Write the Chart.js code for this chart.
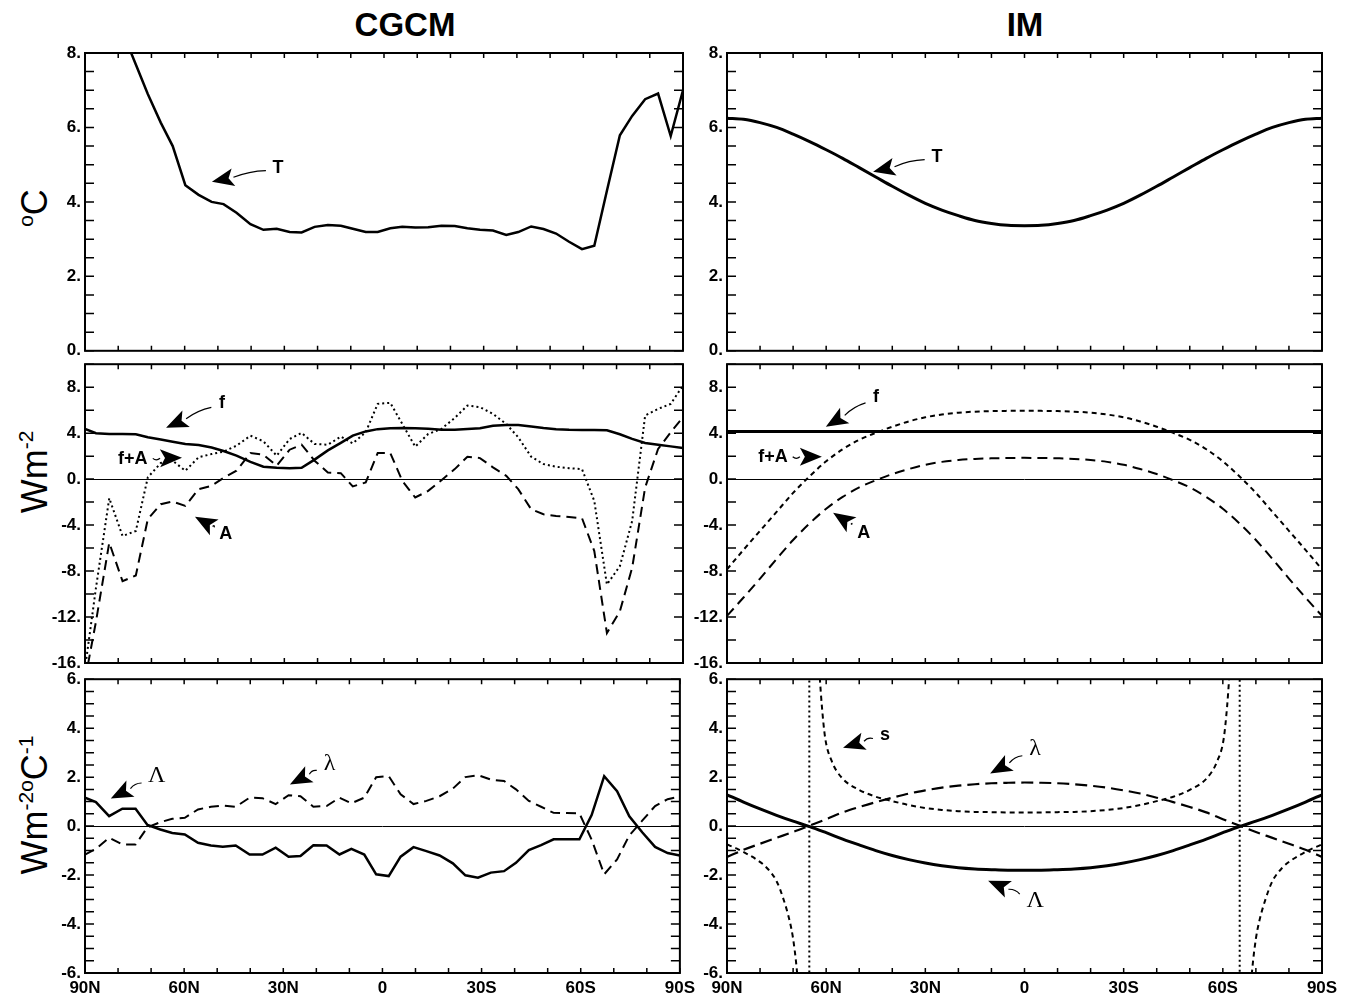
<!DOCTYPE html>
<html>
<head>
<meta charset="utf-8">
<script src="https://cdn.jsdelivr.net/npm/chart.js"></script>
<style>
    body { margin: 0; background: #fff; }
    #page { position: relative; width: 1348px; height: 1000px; overflow: hidden; font-family: "Liberation Sans", Arial, sans-serif; color: #000; }
    canvas { position: absolute; }
    .title { position: absolute; top: 8px; font-weight: bold; font-size: 33px; line-height: 33px; transform: translateX(-50%); }
    .ylab { position: absolute; font-size: 36px; line-height: 36px; white-space: nowrap; transform: translate(-50%, -50%) rotate(-90deg); }
    .ylab sup { font-size: 21px; vertical-align: 14px; }
</style>
</head>
<body>
<div id="page">
    <div class="title" style="left:405px">CGCM</div>
    <div class="title" style="left:1025px">IM</div>
    <div class="ylab" style="left:30px;top:208px"><sup>o</sup>C</div>
    <div class="ylab" style="left:30px;top:472px">Wm<sup>-2</sup></div>
    <div class="ylab" style="left:30px;top:805px">Wm<sup>-2</sup><sup>o</sup>C<sup>-1</sup></div>

    <canvas id="cgcmTop" width="700" height="335" style="left:0;top:30px"></canvas>
    <canvas id="imTop" width="658" height="335" style="left:690px;top:30px"></canvas>
    <canvas id="cgcmMid" width="700" height="330" style="left:0;top:350px"></canvas>
    <canvas id="imMid" width="658" height="330" style="left:690px;top:350px"></canvas>
    <canvas id="cgcmBot" width="700" height="335" style="left:0;top:665px"></canvas>
    <canvas id="imBot" width="658" height="335" style="left:690px;top:665px"></canvas>
</div>

<script>
// tick labels
const latTicks = [90, 60, 30, 0, -30, -60, -90];
const tempTicks = [0, 2, 4, 6, 8];
const fluxTicks = [-16, -12, -8, -4, 0, 4, 8];
const fbTicks = [-6, -4, -2, 0, 2, 4, 6];

const cgcmLat = [90, 86.7, 82.7, 78.7, 74.7, 71.1, 67.2, 63.6, 59.8, 55.8, 51.9, 48.3, 44.4, 40.2, 36.3, 32.3,
    28.4, 24.8, 20.9, 16.9, 13.0, 9.4, 5.5, 1.9, -1.9, -5.5, -9.4, -13.3, -17.3, -21.3, -25.1, -28.9,
    -32.8, -36.8, -40.4, -44.3, -48.0, -51.8, -55.7, -59.6, -63.3, -67.1, -71.0, -74.7, -78.6, -82.5, -86.3, -90];
const cgcmT = [11.0, 10.3, 9.45, 8.57, 7.69, 6.9, 6.13, 5.5, 4.45, 4.19, 4.0, 3.94, 3.71, 3.4, 3.25, 3.28,
    3.19, 3.18, 3.33, 3.38, 3.36, 3.28, 3.19, 3.19, 3.29, 3.33, 3.31, 3.32, 3.36, 3.35, 3.29, 3.25,
    3.23, 3.11, 3.19, 3.34, 3.27, 3.15, 2.93, 2.73, 2.82, 4.3, 5.79, 6.31, 6.76, 6.91, 5.77, 7.0];
const cgcmF = [4.37, 4.0, 3.93, 3.92, 3.9, 3.64, 3.45, 3.26, 3.05, 2.97, 2.75, 2.45, 2.04, 1.5, 1.08, 0.98,
    0.95, 0.98, 1.7, 2.5, 3.15, 3.78, 4.15, 4.35, 4.42, 4.45, 4.42, 4.38, 4.3, 4.3, 4.36, 4.42,
    4.65, 4.72, 4.7, 4.58, 4.45, 4.35, 4.3, 4.28, 4.28, 4.25, 3.9, 3.5, 3.15, 3.0, 2.85, 2.7];
const cgcmFA = [-16.5, -9.46, -1.66, -4.95, -4.51, 0.15, 1.4, 1.6, 0.73, 1.9, 2.18, 2.39, 2.91, 3.78, 3.29, 2.04,
    3.49, 4.02, 3.06, 2.99, 3.7, 3.11, 4.08, 6.55, 6.64, 4.8, 2.82, 3.93, 4.37, 5.33, 6.4, 6.26,
    5.68, 4.8, 3.64, 1.95, 1.31, 1.08, 0.95, 0.87, -1.9, -9.17, -7.57, -3.64, 5.53, 6.11, 6.55, 8.15];
const cgcmA = [-17.5, -12.4, -5.53, -8.88, -8.38, -3.49, -2.18, -1.95, -2.33, -0.87, -0.58, 0.1, 0.73, 2.27, 2.12, 1.16,
    2.56, 3.0, 1.6, 0.58, 0.52, -0.64, -0.29, 2.27, 2.27, -0.15, -1.6, -1.02, -0.09, 0.87, 1.95, 1.83,
    1.02, 0.29, -0.87, -2.62, -3.06, -3.2, -3.3, -3.4, -6.26, -13.4, -11.5, -7.71, -0.73, 2.62, 4.08, 5.39];
const cgcmBigLambda = [1.16, 0.98, 0.41, 0.71, 0.71, 0.05, -0.14, -0.28, -0.34, -0.68, -0.79, -0.84, -0.79, -1.16, -1.16, -0.88,
    -1.25, -1.22, -0.78, -0.79, -1.16, -0.93, -1.16, -1.97, -2.04, -1.25, -0.86, -1.02, -1.2, -1.52, -2.01, -2.11,
    -1.9, -1.84, -1.5, -0.98, -0.78, -0.54, -0.54, -0.54, 0.45, 2.04, 1.43, 0.4, -0.25, -0.85, -1.1, -1.2];
const cgcmLambda = [-1.16, -0.93, -0.48, -0.75, -0.75, -0.05, 0.16, 0.3, 0.34, 0.68, 0.79, 0.84, 0.79, 1.16, 1.14, 0.9,
    1.26, 1.22, 0.79, 0.82, 1.16, 0.93, 1.16, 2.0, 2.04, 1.3, 0.9, 1.03, 1.22, 1.53, 2.0, 2.08,
    1.9, 1.84, 1.5, 1.03, 0.79, 0.54, 0.53, 0.52, -0.55, -1.97, -1.36, -0.38, 0.22, 0.82, 1.1, 1.2];

// IM latitudes, every 5 degrees
const imLat = [90, 85, 80, 75, 70, 65, 60, 55, 50, 45, 40, 35, 30, 25, 20, 15, 10, 5, 0,
    -5, -10, -15, -20, -25, -30, -35, -40, -45, -50, -55, -60, -65, -70, -75, -80, -85, -90];
const imT = [6.25, 6.22, 6.13, 6.0, 5.82, 5.62, 5.4, 5.17, 4.92, 4.67, 4.42, 4.18, 3.96, 3.78, 3.63, 3.5, 3.42, 3.37, 3.36,
    3.37, 3.42, 3.5, 3.63, 3.78, 3.96, 4.18, 4.42, 4.67, 4.92, 5.17, 5.4, 5.62, 5.82, 6.0, 6.13, 6.22, 6.25];
const imFLat = [90, -90];
const imF = [4.15, 4.15];
const imFA = [-7.85, -6.15, -4.5, -2.85, -1.2, 0.25, 1.55, 2.6, 3.42, 4.02, 4.56, 5.02, 5.38, 5.62, 5.78, 5.87, 5.92, 5.94, 5.95,
    5.94, 5.92, 5.87, 5.78, 5.62, 5.38, 5.02, 4.56, 4.02, 3.42, 2.6, 1.55, 0.25, -1.2, -2.85, -4.5, -6.15, -7.85];
const imA = [-11.9, -10.3, -8.65, -6.95, -5.3, -3.85, -2.58, -1.55, -0.72, -0.1, 0.44, 0.88, 1.25, 1.5, 1.66, 1.76, 1.81, 1.84, 1.85,
    1.84, 1.81, 1.76, 1.66, 1.5, 1.25, 0.88, 0.44, -0.1, -0.72, -1.55, -2.58, -3.85, -5.3, -6.95, -8.65, -10.3, -11.9];
const imBigLambda = [1.28, 0.98, 0.7, 0.44, 0.2, -0.02, -0.27, -0.53, -0.77, -1.0, -1.2, -1.37, -1.51, -1.62, -1.7, -1.75, -1.78, -1.8, -1.8,
    -1.8, -1.78, -1.75, -1.7, -1.62, -1.51, -1.37, -1.2, -1.0, -0.77, -0.53, -0.27, -0.02, 0.2, 0.44, 0.7, 0.98, 1.28];
const imLambda = [-1.26, -0.97, -0.72, -0.48, -0.24, 0.02, 0.28, 0.56, 0.78, 0.98, 1.16, 1.33, 1.46, 1.57, 1.65, 1.71, 1.75, 1.77, 1.78,
    1.77, 1.75, 1.71, 1.65, 1.57, 1.46, 1.33, 1.16, 0.98, 0.78, 0.56, 0.28, 0.02, -0.24, -0.48, -0.72, -0.97, -1.26];
// s has poles, so it gets its own latitudes (null = break at the pole)
const imSLat = [90, 87, 84, 81, 78, 75, 73, 71, 70, 69, 68.3, 65.1, 62.3, 61.9, 61.3, 60.3, 58.3, 55.3, 50, 45, 40, 35, 30, 25, 20, 15, 10, 5, 0,
    -5, -10, -15, -20, -25, -30, -35, -40, -45, -50, -55.3, -58.3, -60.3, -61.3, -61.9, -62.3, -65.1, -68.3, -69, -70, -71, -73, -75, -78, -81, -84, -87, -90];
const imS = [-0.75, -0.92, -1.13, -1.37, -1.7, -2.25, -2.95, -3.9, -4.6, -5.7, -6.8, null, 6.8, 6.0, 4.9, 3.6, 2.65, 1.98, 1.48, 1.2, 1.02, 0.86, 0.74, 0.66, 0.61, 0.58, 0.57, 0.56, 0.56,
    0.56, 0.57, 0.58, 0.61, 0.66, 0.74, 0.86, 1.02, 1.2, 1.48, 1.98, 2.65, 3.6, 4.9, 6.0, 6.8, null, -6.8, -5.7, -4.6, -3.9, -2.95, -2.25, -1.7, -1.37, -1.13, -0.92, -0.75];
const imPoleLat = [65.1, 65.1, 0, -65.1, -65.1];
const imPoleVal = [-7, 7, null, 7, -7];

const tickFont = { family: '"Liberation Sans", Arial, sans-serif', size: 17, weight: 'bold' };

function latLabel(v) {
    return v === 0 ? '0' : Math.abs(v) + (v > 0 ? 'N' : 'S');
}

function series(xs, ys, style) {
    return Object.assign({
        data: xs.map((x, i) => ({ x: x, y: ys[i] })),
        borderColor: '#000', borderWidth: 2.5, pointRadius: 0, tension: 0, fill: false, spanGaps: false
    }, style);
}

// box, inward ticks and the zero line
const framePlugin = {
    id: 'frame',
    beforeDatasetsDraw(chart, args, opts) {
        if (!opts.zero) return;
        const { ctx, chartArea: a, scales: { y } } = chart;
        const py = Math.round(y.getPixelForValue(0)) + 0.5;
        ctx.save();
        ctx.strokeStyle = '#000';
        ctx.lineWidth = 1;
        ctx.beginPath(); ctx.moveTo(a.left, py); ctx.lineTo(a.right, py); ctx.stroke();
        ctx.restore();
    },
    afterDatasetsDraw(chart, args, opts) {
        const { ctx, chartArea: a, scales: { x, y } } = chart;
        ctx.save();
        ctx.strokeStyle = '#000';
        ctx.lineWidth = 1.5;
        ctx.beginPath();
        for (let v = -90; v <= 90; v += 10) {
            const px = x.getPixelForValue(v);
            ctx.moveTo(px, a.bottom); ctx.lineTo(px, a.bottom - 5);
            ctx.moveTo(px, a.top); ctx.lineTo(px, a.top + 5);
        }
        for (let v = y.min; v <= y.max + 1e-9; v += opts.yStep) {
            const py = y.getPixelForValue(v);
            ctx.moveTo(a.left, py); ctx.lineTo(a.left + 9, py);
            ctx.moveTo(a.right, py); ctx.lineTo(a.right - 9, py);
        }
        ctx.stroke();
        ctx.lineWidth = 2;
        ctx.strokeRect(a.left, a.top, a.width, a.height);
        ctx.restore();
    }
};

// curve labels with arrows
const notesPlugin = {
    id: 'notes',
    afterDraw(chart, args, opts) {
        const { ctx, scales: { x, y } } = chart;
        (opts.items || []).forEach((n) => {
            const tx = x.getPixelForValue(n.at[0]), ty = y.getPixelForValue(n.at[1]);
            const hx = x.getPixelForValue(n.tip[0]), hy = y.getPixelForValue(n.tip[1]);
            ctx.save();
            ctx.fillStyle = '#000';
            ctx.strokeStyle = '#000';
            ctx.font = n.serif ? '24px "Liberation Serif", serif' : 'bold 18px "Liberation Sans", Arial, sans-serif';
            ctx.textAlign = 'center';
            ctx.textBaseline = 'middle';
            ctx.fillText(n.text, tx, ty);
            const w = ctx.measureText(n.text).width;
            const dx = hx - tx, dy = hy - ty, d = Math.hypot(dx, dy);
            const ux = dx / d, uy = dy / d;
            const gap = Math.abs(ux) * (w / 2 + 3) + Math.abs(uy) * 10 + 2;
            const sx = tx + ux * gap, sy = ty + uy * gap;
            const bx = hx - ux * 22, by = hy - uy * 22;
            ctx.lineWidth = 1.2;
            ctx.beginPath();
            ctx.moveTo(sx, sy);
            ctx.quadraticCurveTo((sx + bx) / 2 - uy * 3, (sy + by) / 2 + ux * 3, bx, by);
            ctx.stroke();
            ctx.beginPath();
            ctx.moveTo(hx, hy);
            ctx.lineTo(bx - uy * 9, by + ux * 9);
            ctx.lineTo(bx + ux * 5, by + uy * 5);
            ctx.lineTo(bx + uy * 9, by - ux * 9);
            ctx.closePath();
            ctx.fill();
            ctx.restore();
        });
    }
};

const rowPad = [{ top: 23, bottom: 14 }, { top: 14, bottom: 17 }, { top: 12, bottom: 0 }];

function panel(id, col, row, cfg) {
    const left = col === 0;
    new Chart(document.getElementById(id), {
        type: 'line',
        data: { datasets: cfg.datasets },
        options: {
            responsive: false,
            animation: false,
            events: [],
            layout: { padding: { top: rowPad[row].top, bottom: rowPad[row].bottom, left: 0, right: left ? 17 : 26 } },
            plugins: {
                legend: { display: false },
                tooltip: { enabled: false },
                frame: { yStep: cfg.yStep, zero: cfg.zero },
                notes: { items: cfg.notes }
            },
            scales: {
                x: {
                    type: 'linear', reverse: true, min: -90, max: 90,
                    grid: { display: false, drawTicks: false },
                    border: { display: false },
                    afterBuildTicks: (s) => { s.ticks = latTicks.map((v) => ({ value: v })); },
                    ticks: { display: row === 2, autoSkip: false, maxRotation: 0, padding: 5, color: '#000', font: tickFont, callback: latLabel },
                    afterFit: (s) => { s.height = row === 2 ? 27 : 0; }
                },
                y: {
                    type: 'linear', min: cfg.min, max: cfg.max,
                    grid: { display: false, drawTicks: false },
                    border: { display: false },
                    afterBuildTicks: (s) => { s.ticks = cfg.ticks.map((v) => ({ value: v })); },
                    ticks: { padding: 4, color: '#000', font: tickFont, callback: (v) => v + '.' },
                    afterFit: (s) => { s.width = left ? 85 : 37; }
                }
            }
        },
        plugins: [framePlugin, notesPlugin]
    });
}

const dashA = { borderDash: [10, 6], borderWidth: 2 };
const dotted = { borderDash: [2, 3], borderWidth: 2 };
const shortDash = { borderDash: [5, 4], borderWidth: 2 };
const smooth = { cubicInterpolationMode: 'monotone' };

// Temperature
panel('cgcmTop', 0, 0, {
    min: 0, max: 8, ticks: tempTicks, yStep: 0.5,
    datasets: [series(cgcmLat, cgcmT)],
    notes: [{ text: 'T', at: [31.9, 4.91], tip: [51.8, 4.54] }]
});
panel('imTop', 1, 0, {
    min: 0, max: 8, ticks: tempTicks, yStep: 0.5,
    datasets: [series(imLat, imT, Object.assign({ borderWidth: 3 }, smooth))],
    notes: [{ text: 'T', at: [26.5, 5.21], tip: [45.8, 4.81] }]
});

// Fluxes
panel('cgcmMid', 0, 1, {
    min: -16, max: 10, ticks: fluxTicks, yStep: 2, zero: true,
    datasets: [series(cgcmLat, cgcmF), series(cgcmLat, cgcmFA, dotted), series(cgcmLat, cgcmA, dashA)],
    notes: [
        { text: 'f', at: [48.8, 6.66], tip: [65.6, 4.47] },
        { text: 'f+A', at: [75.6, 1.77], tip: [60.8, 1.86] },
        { text: 'A', at: [47.6, -4.76], tip: [56.9, -3.28] }
    ]
});
panel('imMid', 1, 1, {
    min: -16, max: 10, ticks: fluxTicks, yStep: 2, zero: true,
    datasets: [series(imFLat, imF, { borderWidth: 3 }), series(imLat, imFA, Object.assign({}, shortDash, smooth)), series(imLat, imA, Object.assign({}, dashA, smooth))],
    notes: [
        { text: 'f', at: [44.9, 7.18], tip: [60.1, 4.56] },
        { text: 'f+A', at: [76.1, 1.94], tip: [61.3, 1.94] },
        { text: 'A', at: [48.6, -4.68], tip: [57.9, -2.93] }
    ]
});

// Feedbacks
panel('cgcmBot', 0, 2, {
    min: -6, max: 6, ticks: fbTicks, yStep: 0.5, zero: true,
    datasets: [series(cgcmLat, cgcmBigLambda), series(cgcmLat, cgcmLambda, dashA)],
    notes: [
        { text: 'Λ', at: [68.3, 2.07], tip: [82.2, 1.13], serif: true },
        { text: 'λ', at: [16.0, 2.55], tip: [28.0, 1.7], serif: true }
    ]
});
panel('imBot', 1, 2, {
    min: -6, max: 6, ticks: fbTicks, yStep: 0.5, zero: true,
    datasets: [
        series(imLat, imBigLambda, Object.assign({ borderWidth: 3 }, smooth)),
        series(imLat, imLambda, Object.assign({ borderDash: [12, 6], borderWidth: 2.2 }, smooth)),
        series(imSLat, imS, Object.assign({}, shortDash, smooth)),
        series(imPoleLat, imPoleVal, dotted)
    ],
    notes: [
        { text: 's', at: [42.2, 3.73], tip: [54.9, 3.2] },
        { text: 'λ', at: [-3.2, 3.16], tip: [10.4, 2.15], serif: true },
        { text: 'Λ', at: [-3.2, -3.04], tip: [11.0, -2.23], serif: true }
    ]
});
</script>
</body>
</html>
